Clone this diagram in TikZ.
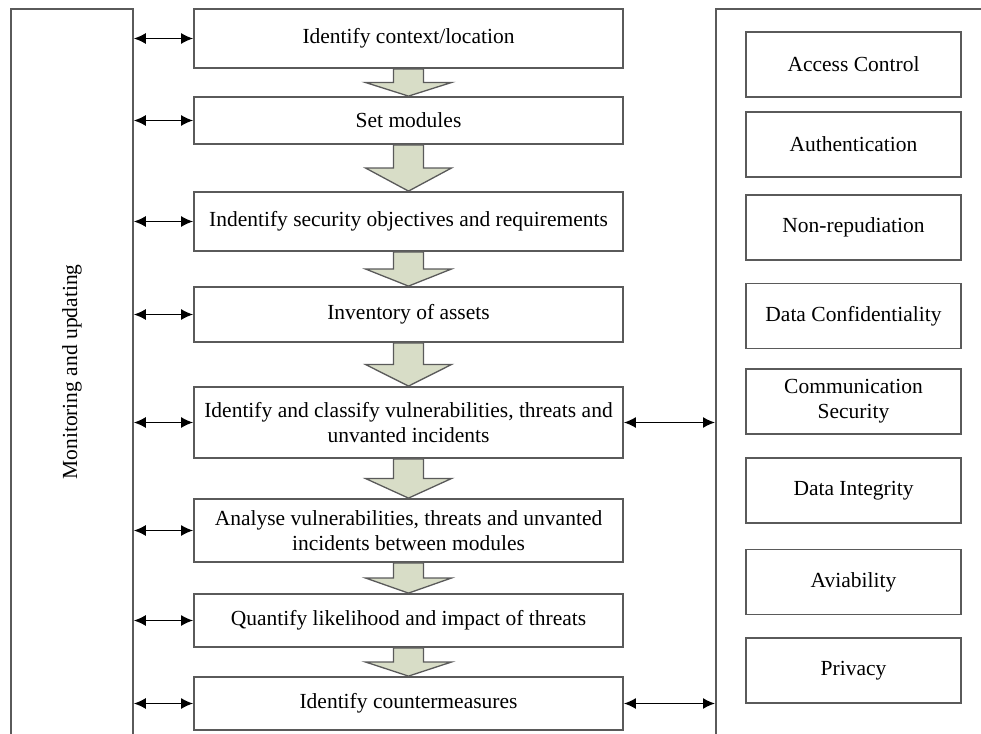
\documentclass[tikz,border=0pt]{standalone}
\usepackage{fontspec}
\setmainfont{Liberation Serif}
\usetikzlibrary{positioning,arrows.meta,calc}

\definecolor{flowfill}{RGB}{216,221,199}
\definecolor{edgegray}{RGB}{90,90,90}

% block arrow between two steps
\newcommand{\flowarr}[2]{%
  \coordinate (fm) at ($(#1.south)!0.5!(#2.north)$);
  \filldraw[flow] ($(#1.south)+(-15,0)$) -- ($(fm)+(-15,0)$) -- ($(fm)+(-43,0)$)
    -- (#2.north) -- ($(fm)+(43,0)$) -- ($(fm)+(15,0)$) -- ($(#1.south)+(15,0)$) -- cycle;}

\begin{document}
\begin{tikzpicture}[x=1pt, y=-1pt,
  txt/.style={font=\fontsize{21.5}{25}\selectfont},
  stepbox/.style={txt, draw=edgegray, line width=1.8pt, minimum width=429pt, inner sep=2pt, align=center},
  sbox/.style={txt, draw=edgegray, line width=1.8pt, minimum width=215pt, minimum height=65pt, inner sep=2pt, align=center},
  panel/.style={draw=edgegray, line width=1.8pt, anchor=north west, inner sep=0pt},
  flow/.style={fill=flowfill, draw=edgegray, line width=1.3pt},
  dbl/.style={{Latex[length=12pt,width=11pt]}-{Latex[length=12pt,width=11pt]}, line width=1.5pt, black}
]
\clip (0,0) rectangle (981,733);

% side panels
\node[panel, minimum width=122pt, minimum height=760pt] (mon) at (10,8) {};
\node[txt, rotate=90] (montxt) at (72,372) {Monitoring and updating};
\node[panel, minimum width=300pt, minimum height=760pt] (sec) at (715,8) {};

% main steps
\node[stepbox, minimum height=59pt] (b1) at (408.5,38.5) {Identify context/location};
\node[stepbox, minimum height=47pt] (b2) at (408.5,120.5) {Set modules};
\node[stepbox, minimum height=59pt] (b3) at (408.5,221.5) {Indentify security objectives and requirements};
\node[stepbox, minimum height=55pt] (b4) at (408.5,314.5) {Inventory of assets};
\node[stepbox, minimum height=71pt] (b5) at (408.5,422.5) {Identify and classify vulnerabilities, threats and\\ unvanted incidents};
\node[stepbox, minimum height=63pt] (b6) at (408.5,530.5) {Analyse vulnerabilities, threats and unvanted\\ incidents between modules};
\node[stepbox, minimum height=53pt] (b7) at (408.5,620.5) {Quantify likelihood and impact of threats};
\node[stepbox, minimum height=53pt] (b8) at (408.5,703.5) {Identify countermeasures};

% security services
\node[sbox] (r1) at (853.5,64.5) {Access Control};
\node[sbox] (r2) at (853.5,144.5) {Authentication};
\node[sbox] (r3) at (853.5,227.5) {Non-repudiation};
\node[sbox] (r4) at (853.5,316) {Data Confidentiality};
\node[sbox] (r5) at (853.5,401.5) {Communication\\ Security};
\node[sbox] (r6) at (853.5,490.5) {Data Integrity};
\node[sbox] (r7) at (853.5,582) {Aviability};
\node[sbox] (r8) at (853.5,670.5) {Privacy};

\flowarr{b1}{b2}
\flowarr{b2}{b3}
\flowarr{b3}{b4}
\flowarr{b4}{b5}
\flowarr{b5}{b6}
\flowarr{b6}{b7}
\flowarr{b7}{b8}

\foreach \b in {b1,b2,b3,b4,b5,b6,b7,b8}
  \draw[dbl] (mon.east |- \b) -- (\b);
\draw[dbl] (b5) -- (sec.west |- b5);
\draw[dbl] (b8) -- (sec.west |- b8);
\end{tikzpicture}
\end{document}
